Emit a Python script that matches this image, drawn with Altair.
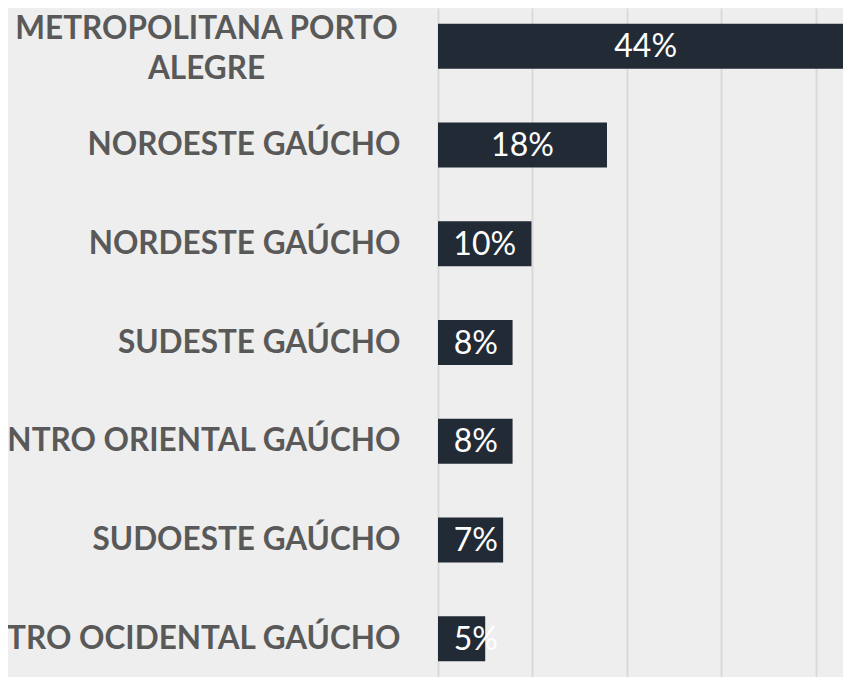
import altair as alt
import pandas as pd

regions = [
    "METROPOLITANA PORTO ALEGRE",
    "NOROESTE GAÚCHO",
    "NORDESTE GAÚCHO",
    "SUDESTE GAÚCHO",
    "CENTRO ORIENTAL GAÚCHO",
    "SUDOESTE GAÚCHO",
    "CENTRO OCIDENTAL GAÚCHO",
]
shares = [44.0, 17.9, 9.9, 7.9, 7.9, 6.9, 5.0]
grid_ticks = [0, 10, 20, 30, 40]

df = pd.DataFrame({"region": regions, "share": shares})

BAR = "#222a35"
LABEL = "#595959"
FONT = "Lato"
TWO_LINE = "datum.value == 'METROPOLITANA PORTO ALEGRE'"

y_enc = alt.Y(
    "region:N",
    sort=regions,
    title=None,
    scale=alt.Scale(paddingInner=0.545, paddingOuter=0.16),
    axis=alt.Axis(
        domain=False,
        ticks=False,
        labelFont=FONT,
        labelFontSize=31.5,
        labelFontWeight="bold",
        labelColor=LABEL,
        labelLimit=1000,
        labelLineHeight=40,
        labelBaseline="middle",
        labelExpr=TWO_LINE + " ? ['METROPOLITANA PORTO', 'ALEGRE'] : datum.value",
        labelAlign=alt.ExprRef(expr=TWO_LINE + " ? 'center' : 'right'"),
        labelPadding=alt.ExprRef(expr=TWO_LINE + " ? 232 : 38"),
        labelOffset=alt.ExprRef(expr=TWO_LINE + " ? -16 : 1"),
    ),
)

x_enc = alt.X(
    "share:Q",
    title=None,
    scale=alt.Scale(domain=[0, 42.9], nice=False),
    axis=alt.Axis(
        values=grid_ticks,
        labels=False,
        ticks=False,
        domain=False,
        grid=True,
        gridColor="#d9d9d9",
        gridWidth=2,
    ),
)

bars = alt.Chart(df).mark_bar(color=BAR, clip=True).encode(x=x_enc, y=y_enc)

text = (
    alt.Chart(df)
    .transform_calculate(
        pos="max(datum.share / 2, 4.0)",
        txt="format(datum.share, '.0f') + '%'",
    )
    .mark_text(color="white", font=FONT, fontSize=32, baseline="middle", align="center", dy=1)
    .encode(x=alt.X("pos:Q"), y=alt.Y("region:N", sort=regions), text="txt:N")
)

chart = (
    alt.layer(bars, text)
    .properties(
        width=405,
        height=669,
        autosize=alt.AutoSizeParams(type="none"),
        padding={"left": 430, "top": 0, "right": 0, "bottom": 0},
        background="#eeeeee",
    )
    .configure_view(stroke=None)
)

chart.save("out.html", embed_options={"renderer": "svg", "actions": False})
